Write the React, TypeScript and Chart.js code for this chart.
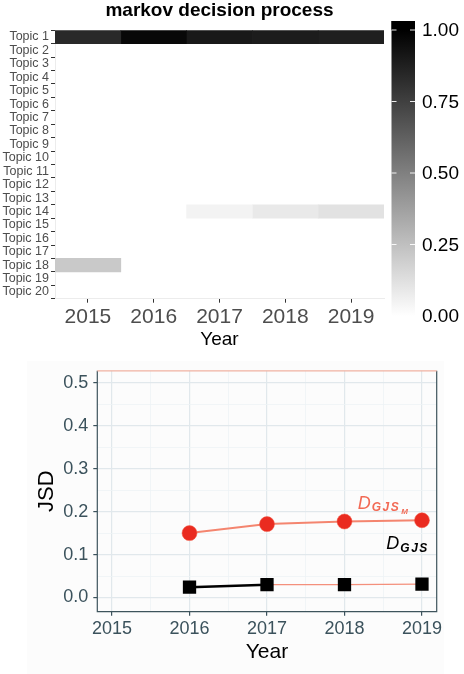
import React, { useEffect, useRef } from "react";
import { Chart, registerables } from "chart.js";
Chart.register(...registerables);

const FONT = "'Liberation Sans', Arial, Helvetica, sans-serif";

// ---------- Heatmap data ----------
const heatTitle = "markov decision process";
const topics = [
  "Topic 1", "Topic 2", "Topic 3", "Topic 4", "Topic 5", "Topic 6", "Topic 7",
  "Topic 8", "Topic 9", "Topic 10", "Topic 11", "Topic 12", "Topic 13", "Topic 14",
  "Topic 15", "Topic 16", "Topic 17", "Topic 18", "Topic 19", "Topic 20",
];
const heatYears = [2015, 2016, 2017, 2018, 2019];
// one value per topic (0 = empty cell)
const share2015 = [0.84, 0, 0, 0, 0, 0, 0, 0, 0, 0, 0, 0, 0, 0, 0, 0, 0, 0.21, 0, 0];
const share2016 = [0.97, 0, 0, 0, 0, 0, 0, 0, 0, 0, 0, 0, 0, 0, 0, 0, 0, 0, 0, 0];
const share2017 = [0.9, 0, 0, 0, 0, 0, 0, 0, 0, 0, 0, 0, 0, 0.047, 0, 0, 0, 0, 0, 0];
const share2018 = [0.89, 0, 0, 0, 0, 0, 0, 0, 0, 0, 0, 0, 0, 0.085, 0, 0, 0, 0, 0, 0];
const share2019 = [0.88, 0, 0, 0, 0, 0, 0, 0, 0, 0, 0, 0, 0, 0.115, 0, 0, 0, 0, 0, 0];
const heatShares = [share2015, share2016, share2017, share2018, share2019];
const colorbarTicks = [0, 0.25, 0.5, 0.75, 1];
const xTitle = "Year";

// ---------- JSD data ----------
const jsdYears = [2016, 2017, 2018, 2019];
const gjsM = [0.15, 0.171, 0.177, 0.18];
const gjs = [0.024, 0.03, 0.03, 0.031];
const jsdTitle = "JSD";

function grayFor(v: number) {
  const g = Math.round(255 * (1 - v));
  return `rgb(${g},${g},${g})`;
}

const isWhole = (v: number, step: number) =>
  Math.abs(Math.round(v / step) - v / step) < 1e-6;

const heatDecor = {
  id: "heatDecor",
  afterDraw(chart: any) {
    const { ctx, chartArea } = chart;
    ctx.save();
    ctx.fillStyle = "#000";
    ctx.font = `bold 19px ${FONT}`;
    ctx.textAlign = "center";
    ctx.textBaseline = "middle";
    ctx.fillText(heatTitle, (chartArea.left + chartArea.right) / 2, 11);

    // colour bar
    const x0 = 391.5, w = 23.5;
    const y0 = 316, y1 = 30; // pixel for 0 and 1
    const top = 21, bot = 325;
    const grad = ctx.createLinearGradient(0, y0, 0, y1);
    grad.addColorStop(0, grayFor(0));
    grad.addColorStop(0.5, grayFor(0.5));
    grad.addColorStop(1, grayFor(1));
    ctx.fillStyle = grad;
    ctx.fillRect(x0, top, w, y0 - top);
    ctx.fillStyle = grayFor(0);
    ctx.fillRect(x0, y0, w, bot - y0);
    ctx.fillStyle = grayFor(1);
    ctx.fillRect(x0, top, w, y1 - top);
    ctx.font = `19px ${FONT}`;
    ctx.textAlign = "left";
    for (const t of colorbarTicks) {
      const y = y0 - t * (y0 - y1);
      ctx.strokeStyle = "rgba(255,255,255,0.9)";
      ctx.lineWidth = 1;
      ctx.beginPath();
      ctx.moveTo(x0, y); ctx.lineTo(x0 + 5, y);
      ctx.moveTo(x0 + w - 5, y); ctx.lineTo(x0 + w, y);
      ctx.stroke();
      ctx.fillStyle = "#000";
      ctx.fillText(t.toFixed(2), 422, y + 1);
    }
    ctx.restore();
  },
};

const jsdDecor = {
  id: "jsdDecor",
  beforeDraw(chart: any) {
    const { ctx } = chart;
    ctx.save();
    ctx.fillStyle = "#fcfcfc";
    ctx.fillRect(27, 6, 417, 313);
    ctx.restore();
  },
  beforeDatasetsDraw(chart: any) {
    const { ctx, chartArea: a } = chart;
    ctx.save();
    ctx.lineWidth = 1.2;
    ctx.strokeStyle = "#3e545c";
    ctx.beginPath();
    ctx.moveTo(a.left, a.top); ctx.lineTo(a.left, a.bottom); ctx.lineTo(a.right, a.bottom); ctx.lineTo(a.right, a.top);
    ctx.stroke();
    ctx.strokeStyle = "#f0b2a2";
    ctx.beginPath();
    ctx.moveTo(a.left, a.top); ctx.lineTo(a.right, a.top);
    ctx.stroke();
    ctx.restore();
  },
  afterDatasetsDraw(chart: any) {
    const { ctx, scales } = chart;
    const xs = scales.x, ys = scales.y;
    ctx.save();
    ctx.textBaseline = "middle";
    ctx.textAlign = "left";
    // red label
    let x = xs.getPixelForValue(2018.17), y = ys.getPixelForValue(0.218);
    ctx.fillStyle = "#f26a55";
    ctx.font = `italic 18px ${FONT}`;
    ctx.fillText("D", x, y);
    ctx.font = `bold italic 12px ${FONT}`;
    (ctx as any).letterSpacing = "1.5px";
    ctx.fillText("GJS", x + 14, y + 4);
    const wG = ctx.measureText("GJS").width;
    (ctx as any).letterSpacing = "0px";
    ctx.font = `bold italic 8px ${FONT}`;
    ctx.fillText("M", x + 14 + wG + 1, y + 8);
    // black label
    x = xs.getPixelForValue(2018.54); y = ys.getPixelForValue(0.124);
    ctx.fillStyle = "#000";
    ctx.font = `italic 18px ${FONT}`;
    ctx.fillText("D", x, y);
    ctx.font = `bold italic 12px ${FONT}`;
    (ctx as any).letterSpacing = "1.5px";
    ctx.fillText("GJS", x + 14, y + 4);
    (ctx as any).letterSpacing = "0px";
    ctx.restore();
  },
};

export default function App() {
  const heatRef = useRef<HTMLCanvasElement>(null);
  const jsdRef = useRef<HTMLCanvasElement>(null);

  useEffect(() => {
    const heat = new Chart(heatRef.current!, {
      type: "bar",
      data: {
        labels: topics,
        datasets: heatYears.map((yr, k) => ({
          label: String(yr),
          data: heatShares[k].map((v) => (v > 0 ? [yr - 0.5, yr + 0.5] : null)),
          backgroundColor: heatShares[k].map((v) => grayFor(v)),
          borderWidth: 0,
          grouped: false,
          barPercentage: 1,
          categoryPercentage: 1,
        })) as any,
      },
      options: {
        indexAxis: "y",
        responsive: false,
        animation: false,
        layout: { padding: { top: 30.3, right: 80, left: 0, bottom: 0 } },
        plugins: { legend: { display: false }, tooltip: { enabled: false }, title: { display: false } },
        scales: {
          x: {
            type: "linear",
            position: "bottom",
            min: 2014.5,
            max: 2019.5,
            afterBuildTicks: (s: any) => {
              s.ticks = heatYears.map((v) => ({ value: v }));
            },
            ticks: {
              autoSkip: false,
              maxRotation: 0,
              padding: 2,
              color: "#4d4d4d",
              font: { family: FONT, size: 21 },
              callback: (v: any) => String(v),
            },
            grid: { drawOnChartArea: false, tickLength: 4, tickColor: "#333", color: "#333" },
            border: { display: true, color: "#ececec" },
            title: {
              display: true,
              text: xTitle,
              color: "#000",
              font: { family: FONT, size: 19 },
              padding: { top: 0, bottom: 4 },
            },
            afterFit: (s: any) => { s.height = 56.3; },
          },
          y: {
            type: "category",
            offset: true,
            ticks: { autoSkip: false, padding: 2, color: "#4d4d4d", font: { family: FONT, size: 12.5 } },
            grid: { drawOnChartArea: false, tickLength: 4, tickColor: "#333", color: "#333" },
            border: { display: true, color: "#ececec" },
            afterFit: (s: any) => { s.width = 55; },
          },
        },
      } as any,
      plugins: [heatDecor],
    });

    const major = "#e1e8ec", minor = "#eef2f5", tickCol = "#3b525c";
    const jsd = new Chart(jsdRef.current!, {
      type: "line",
      data: {
        datasets: [
          {
            label: "D_GJS_M",
            data: jsdYears.map((x, i) => ({ x, y: gjsM[i] })),
            borderColor: "#f4856f",
            borderWidth: 2,
            pointStyle: "circle",
            pointRadius: 7.5,
            pointBackgroundColor: "#ea2b20",
            pointBorderColor: "#f25a45",
            pointBorderWidth: 0.5,
          },
          {
            label: "D_GJS",
            data: jsdYears.map((x, i) => ({ x, y: gjs[i] })),
            borderColor: "#f4907c",
            borderWidth: 1.3,
            pointStyle: "rect",
            pointRadius: 9.4,
            pointBackgroundColor: "#000",
            pointBorderColor: "#000",
            pointBorderWidth: 0,
            segment: {
              borderColor: (c: any) => (c.p0DataIndex === 0 ? "#000" : "#f4907c"),
              borderWidth: (c: any) => (c.p0DataIndex === 0 ? 2.5 : 1.3),
            },
          },
        ] as any,
      },
      options: {
        responsive: false,
        animation: false,
        layout: { padding: { top: 13.3, right: 27.3, left: 0, bottom: 0 } },
        plugins: { legend: { display: false }, tooltip: { enabled: false } },
        scales: {
          x: {
            type: "linear",
            min: 2014.81,
            max: 2019.19,
            ticks: {
              stepSize: 0.5,
              includeBounds: false,
              autoSkip: false,
              maxRotation: 0,
              padding: 3,
              color: tickCol,
              font: { family: FONT, size: 18 },
              callback: (v: any) => (isWhole(v, 1) ? String(v) : ""),
            },
            grid: {
              color: (c: any) => (isWhole(c.tick.value, 1) ? major : minor),
              lineWidth: (c: any) => (isWhole(c.tick.value, 1) ? 1.2 : 0.8),
              tickLength: 4,
              tickColor: (c: any) => (isWhole(c.tick.value, 1) ? tickCol : "rgba(0,0,0,0)"),
            },
            border: { display: false },
            title: {
              display: true,
              text: xTitle,
              color: "#000",
              font: { family: FONT, size: 21 },
              padding: { top: 0, bottom: 9.4 },
            },
            afterFit: (s: any) => { s.height = 62.3; },
          },
          y: {
            type: "linear",
            min: -0.033,
            max: 0.528,
            ticks: {
              stepSize: 0.05,
              includeBounds: false,
              autoSkip: false,
              padding: 5,
              color: tickCol,
              font: { family: FONT, size: 18 },
              callback: (v: any) => (isWhole(v, 0.1) ? Number(v).toFixed(1) : ""),
            },
            grid: {
              color: (c: any) => (isWhole(c.tick.value, 0.1) ? major : minor),
              lineWidth: (c: any) => (isWhole(c.tick.value, 0.1) ? 1.2 : 0.8),
              tickLength: 4,
              tickColor: (c: any) => (isWhole(c.tick.value, 0.1) ? tickCol : "rgba(0,0,0,0)"),
            },
            border: { display: false },
            title: {
              display: true,
              text: jsdTitle,
              color: "#000",
              font: { family: FONT, size: 22 },
              padding: { top: 33.8, bottom: 0 },
            },
            afterFit: (s: any) => { s.width = 97.3; },
          },
        },
      } as any,
      plugins: [jsdDecor],
    });

    return () => {
      heat.destroy();
      jsd.destroy();
    };
  }, []);

  return (
    <div style={{ position: "absolute", left: 0, top: 0, width: 464, height: 674, background: "#fff" }}>
      <canvas ref={heatRef} width={464} height={355} style={{ display: "block" }} />
      <canvas ref={jsdRef} width={464} height={319} style={{ display: "block" }} />
    </div>
  );
}
